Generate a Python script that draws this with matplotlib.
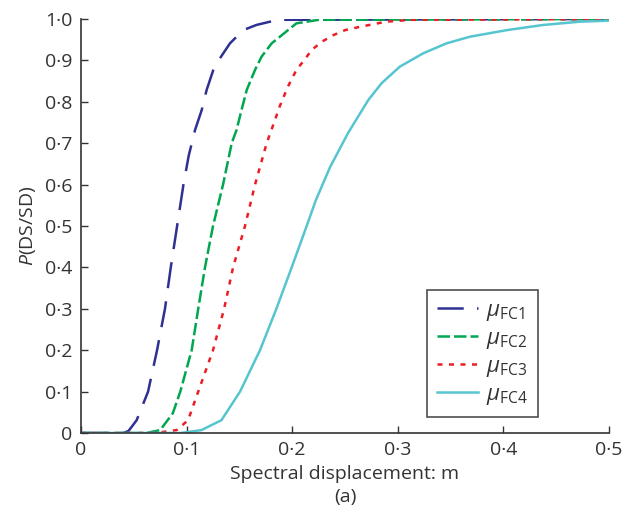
import matplotlib
matplotlib.use('Agg')
import matplotlib.pyplot as plt

plt.rcParams['font.family'] = ['Open Sans', 'DejaVu Sans']
plt.rcParams['mathtext.fontset'] = 'custom'
plt.rcParams['mathtext.rm'] = 'Open Sans'
plt.rcParams['mathtext.it'] = 'Open Sans:italic'

# --- data ---
x_fc1 = [0, 0.040, 0.045, 0.0527, 0.0635, 0.072, 0.0795, 0.085, 0.091, 0.097,
         0.102, 0.108, 0.1143, 0.119, 0.1253, 0.1326, 0.141, 0.1536, 0.166,
         0.179, 0.19, 0.5]
y_fc1 = [0, 0, 0.005, 0.031, 0.1, 0.2, 0.3, 0.4, 0.5, 0.6,
         0.67, 0.732, 0.78, 0.829, 0.877, 0.909, 0.941, 0.973, 0.9855,
         0.9935, 0.998, 1.0]

x_fc2 = [0, 0.062, 0.075, 0.087, 0.094, 0.1048, 0.111, 0.1174, 0.125, 0.1345,
         0.1427, 0.1473, 0.152, 0.157, 0.1648, 0.171, 0.1805, 0.196, 0.204,
         0.225, 0.5]
y_fc2 = [0, 0, 0.007, 0.048, 0.1, 0.2, 0.3, 0.4, 0.5, 0.6,
         0.7, 0.732, 0.78, 0.829, 0.877, 0.909, 0.941, 0.973, 0.9895,
         0.998, 1.0]

x_fc3 = [0, 0.070, 0.0906, 0.1014, 0.111, 0.125, 0.1355, 0.144, 0.1553, 0.1648,
         0.1758, 0.1837, 0.188, 0.196, 0.204, 0.2115, 0.2184, 0.228, 0.2389,
         0.25, 0.264, 0.289, 0.314, 0.5]
y_fc3 = [0, 0, 0.007, 0.031, 0.1, 0.2, 0.3, 0.4, 0.5, 0.6,
         0.7, 0.756, 0.788, 0.837, 0.877, 0.901, 0.925, 0.945, 0.961,
         0.973, 0.981, 0.9935, 0.998, 1.0]

x_fc4 = [0, 0.094, 0.114, 0.133, 0.1506, 0.1695, 0.185, 0.1995, 0.2137, 0.2225,
         0.236, 0.253, 0.272, 0.2847, 0.302, 0.324, 0.346, 0.368, 0.403, 0.4375,
         0.4725, 0.5]
y_fc4 = [0, 0, 0.007, 0.031, 0.1, 0.2, 0.3, 0.4, 0.5, 0.563,
         0.643, 0.725, 0.804, 0.845, 0.885, 0.917, 0.941, 0.957, 0.973, 0.9855,
         0.9935, 0.996]

labels = [r'$\mu_{\mathrm{FC1}}$', r'$\mu_{\mathrm{FC2}}$',
          r'$\mu_{\mathrm{FC3}}$', r'$\mu_{\mathrm{FC4}}$']
xticks = [0, 0.1, 0.2, 0.3, 0.4, 0.5]
xtick_labels = ['0', '0·1', '0·2', '0·3', '0·4', '0·5']
yticks = [0, 0.1, 0.2, 0.3, 0.4, 0.5, 0.6, 0.7, 0.8, 0.9, 1.0]
ytick_labels = ['0', '0·1', '0·2', '0·3', '0·4', '0·5', '0·6', '0·7', '0·8', '0·9', '1·0']

fig = plt.figure(figsize=(6.35, 5.09), dpi=100)
ax = fig.add_axes([0.1276, 0.1493, 0.8314, 0.8134])

lw = 1.8
ax.plot(x_fc1, y_fc1, color='#2e3192', lw=lw, dashes=(10.5, 5.3), label=labels[0])
ax.plot(x_fc2, y_fc2, color='#00a650', lw=lw, dashes=(5.0, 1.6), label=labels[1])
ax.plot(x_fc3, y_fc3, color='#ed1c24', lw=lw, dashes=(2.0, 2.6), label=labels[2])
ax.plot(x_fc4, y_fc4, color='#56c5d0', lw=lw, label=labels[3])

ax.set_xlim(0, 0.5)
ax.set_ylim(0, 1.0)
ax.set_xticks(xticks)
ax.set_xticklabels(xtick_labels)
ax.set_yticks(yticks)
ax.set_yticklabels(ytick_labels)
ax.tick_params(direction='in', length=5, width=1, labelsize=14, colors='#333333',
               labelcolor='#333333', pad=6)
for s in ['top', 'right']:
    ax.spines[s].set_visible(False)
for s in ['left', 'bottom']:
    ax.spines[s].set_color('#333333')
    ax.spines[s].set_linewidth(1.2)

ax.set_xlabel('Spectral displacement: m\n(a)', fontsize=14, color='#333333',
              linespacing=1.35, labelpad=4)
ax.set_ylabel(r'$P$(DS/SD)', fontsize=14, color='#333333', labelpad=5)

leg = ax.legend(loc='lower left', bbox_to_anchor=(0.655, 0.039), fontsize=16,
                frameon=True, fancybox=False, edgecolor='#222222',
                handlelength=1.85, handletextpad=0.35, labelspacing=0.22,
                borderpad=0.45, borderaxespad=0)
leg.get_frame().set_linewidth(1.2)
for t in leg.get_texts():
    t.set_color('#333333')

fig.savefig('out.png', dpi=100)
